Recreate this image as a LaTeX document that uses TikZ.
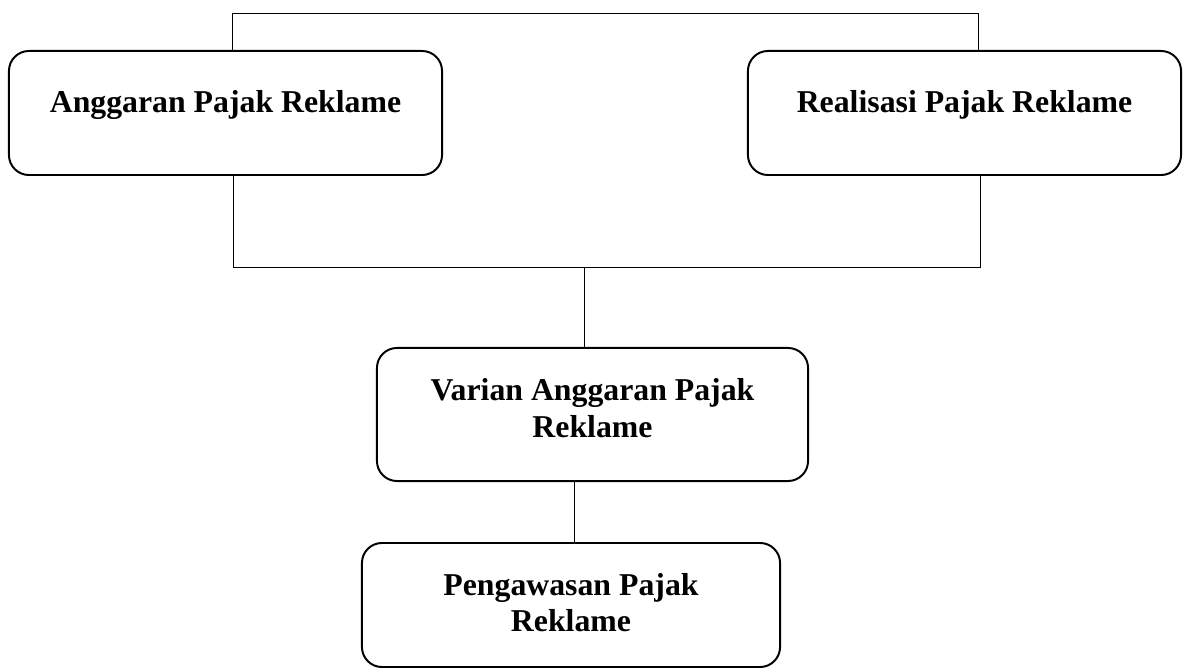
\documentclass[tikz,border=0pt]{standalone}
\usepackage{fontspec}
\setmainfont{Liberation Serif}
\usepackage{tikz}
\usetikzlibrary{positioning}

\begin{document}
\begin{tikzpicture}[x=0.025cm, y=-0.025cm,
    every node/.style={font=\fontsize{22.6}{26.2}\selectfont\bfseries},
    box/.style={draw, line width=1.4pt, rounded corners=0.5cm, align=center, inner sep=0pt},
    topbox/.style={box, minimum width=10.825cm, minimum height=3.1cm, text height=0.7em, text depth=0.76em},
    link/.style={line width=0.7pt}]
    \useasboundingbox (0,0) rectangle (1184,668);

    % Boxes
    \node[topbox] (anggaran) at (225.5,113) {Anggaran Pajak Reklame};
    \node[topbox] (realisasi) at (964.5,113) {Realisasi Pajak Reklame};
    \node[box, minimum width=10.775cm, minimum height=3.325cm, text depth=0.95em] (varian) at (592.5,414.5) {Varian Anggaran Pajak\\Reklame};
    \node[box, minimum width=10.45cm, minimum height=3.1cm, text depth=0.35em] (pengawasan) at (571,605) {Pengawasan Pajak\\Reklame};

    % Top line
    \coordinate (topL) at (232,13);
    \coordinate (topR) at (978,13);
    \draw[link] (topL |- anggaran.north) -- (topL) -- (topR) -- (topR |- realisasi.north);

    % Bottom line
    \coordinate (botL) at (233,267);
    \coordinate (botR) at (980,267);
    \draw[link] (botL |- anggaran.south) -- (botL) -- (botR) -- (botR |- realisasi.south);

    % Down to varian
    \coordinate (mid) at (584,267);
    \draw[link] (mid) -- (mid |- varian.north);

    % Down to pengawasan
    \coordinate (low) at (574,543);
    \draw[link] (low |- varian.south) -- (low);
\end{tikzpicture}
\end{document}
